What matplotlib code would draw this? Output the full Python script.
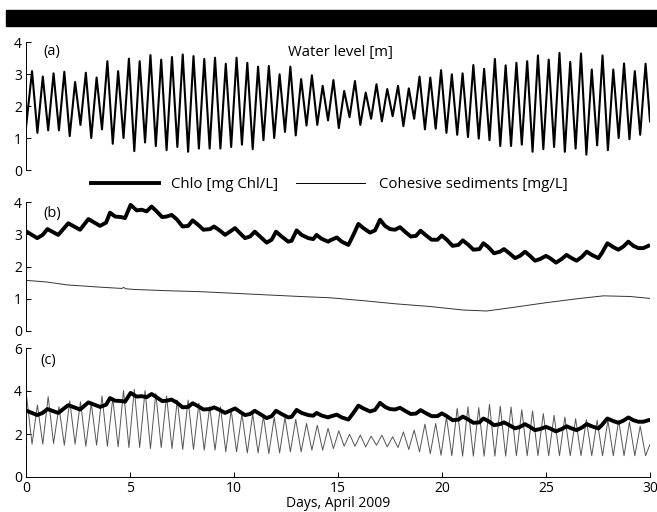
import matplotlib
matplotlib.use("Agg")
import matplotlib.pyplot as plt
from matplotlib.lines import Line2D
from matplotlib.patches import Rectangle
import numpy as np

plt.rcParams['font.family'] = ['Open Sans', 'DejaVu Sans']
plt.rcParams['font.size'] = 10

# tide timing (days): first high water and tidal period
first_hw = 0.29
tide_period = 0.5175
n_hw = 58

# water level [m]: start, high waters, low waters (between highs), end
wl_start = 1.33
wl_end = 1.52
wl_high = [3.09, 2.92, 3.02, 3.07, 2.75, 3.04, 2.89, 3.40, 3.09, 3.48,
           3.40, 3.59, 3.45, 3.53, 3.61, 3.56, 3.47, 3.51, 3.32,
           3.51, 3.35, 3.23, 3.25, 2.99, 3.23, 2.84, 2.96, 2.63, 2.81,
           2.47, 2.78, 2.42, 2.68, 2.53, 2.63, 2.55, 2.92, 2.89, 3.12,
           2.99, 3.02, 3.28, 3.16, 3.47, 3.27, 3.35, 3.40, 3.58, 3.45,
           3.66, 3.38, 3.64, 3.14, 3.58, 3.14, 3.33, 3.09, 3.32]
wl_low = [1.16, 1.24, 1.24, 1.06, 1.41, 1.00, 1.27, 0.82, 1.00, 0.59,
          0.86, 0.75, 0.62, 0.72, 0.57, 0.67, 0.67, 0.67, 0.72,
          0.79, 0.65, 0.93, 1.00, 1.19, 1.08, 1.39, 1.41, 1.55, 1.31,
          1.65, 1.41, 1.60, 1.52, 1.68, 1.37, 1.60, 1.27, 1.29,
          1.16, 1.10, 1.03, 0.98, 0.93, 0.75, 0.75, 0.79, 0.57, 0.65,
          0.72, 0.57, 0.67, 0.48, 0.77, 0.62, 1.00, 0.96, 1.10]

# panel (c) thin series: start, minima at high water, maxima at low water, end
c_start = 4.0
c_end = 1.52
c_min = [1.53, 1.53, 1.56, 1.48, 1.53, 1.43, 1.48, 1.43, 1.40, 1.37,
         1.37, 1.32, 1.37, 1.32, 1.28, 1.28, 1.25, 1.25, 1.17,
         1.17, 1.12, 1.12, 1.09, 1.12, 1.17, 1.17, 1.25, 1.25, 1.32,
         1.43, 1.43, 1.40, 1.48, 1.40, 1.37, 1.28, 1.17, 1.09, 1.01,
         0.99, 0.97, 0.97, 0.97, 0.97, 0.97, 0.99, 0.99, 0.99, 0.99,
         0.99, 0.99, 0.99, 0.99, 0.99, 0.99, 0.99, 0.99, 0.99]
c_max = [3.35, 3.74, 3.27, 3.54, 3.50, 3.43, 3.77, 3.66, 4.02, 4.08,
         4.02, 3.89, 3.77, 3.58, 3.58, 3.43, 3.27, 3.27,
         3.12, 2.93, 2.93, 2.83, 2.77, 2.77, 2.68, 2.49, 2.41, 2.26,
         2.15, 1.99, 1.95, 1.90, 1.95, 1.87, 2.10, 2.18, 2.46, 2.49,
         2.80, 3.20, 3.26, 3.23, 3.38, 3.30, 3.26, 3.13, 3.07, 2.95,
         2.87, 2.79, 2.71, 2.67, 2.64, 2.64, 2.64, 2.56, 2.36]

# Chlo [mg Chl/L]
chl_day = [0.03, 0.54, 0.8, 1.03, 1.55, 2.03, 2.6, 3.0, 3.56, 3.85,
           4.04, 4.28, 4.6, 4.76, 5.03, 5.32, 5.56, 5.8, 6.04, 6.28,
           6.55, 6.76, 7.0, 7.24, 7.53, 7.8, 8.01, 8.28, 8.53, 8.85,
           9.04, 9.33, 9.57, 9.8, 10.05, 10.29, 10.53, 10.77, 11.0, 11.25,
           11.57, 11.81, 12.02, 12.29, 12.61, 12.77, 13.01, 13.25, 13.57, 13.81,
           13.97, 14.21, 14.53, 14.62, 14.94, 15.18, 15.5, 15.74, 15.98, 16.22,
           16.54, 16.78, 17.02, 17.26, 17.5, 17.74, 17.98, 18.22, 18.5, 18.75,
           18.97, 19.26, 19.5, 19.78, 19.99, 20.23, 20.51, 20.79, 21.0, 21.27,
           21.51, 21.8, 21.99, 22.23, 22.5, 22.79, 22.98, 23.24, 23.51, 23.75,
           23.99, 24.23, 24.47, 24.71, 25.0, 25.19, 25.48, 25.75, 25.99, 26.23,
           26.47, 26.71, 26.96, 27.2, 27.52, 27.68, 27.95, 28.24, 28.48, 28.72,
           28.96, 29.2, 29.44, 29.68, 29.92]
chl_val = [3.08, 2.88, 2.98, 3.16, 2.98, 3.34, 3.14, 3.47, 3.26, 3.36,
           3.67, 3.55, 3.53, 3.50, 3.91, 3.74, 3.76, 3.71, 3.86, 3.71,
           3.53, 3.55, 3.60, 3.47, 3.24, 3.26, 3.43, 3.29, 3.14, 3.16,
           3.24, 3.11, 2.98, 3.08, 3.19, 3.03, 2.88, 2.93, 3.08, 2.93,
           2.74, 2.83, 3.08, 2.93, 2.77, 2.80, 3.12, 2.98, 2.88, 2.85,
           2.98, 2.86, 2.77, 2.81, 2.90, 2.77, 2.67, 2.98, 3.32, 3.19,
           3.05, 3.12, 3.45, 3.26, 3.16, 3.14, 3.22, 3.08, 2.93, 2.95,
           3.11, 2.95, 2.83, 2.83, 2.96, 2.83, 2.64, 2.67, 2.81, 2.67,
           2.52, 2.54, 2.72, 2.60, 2.41, 2.46, 2.54, 2.41, 2.26, 2.33,
           2.46, 2.33, 2.18, 2.23, 2.33, 2.26, 2.12, 2.23, 2.36, 2.26,
           2.18, 2.29, 2.46, 2.36, 2.26, 2.41, 2.72, 2.60, 2.52, 2.62,
           2.77, 2.64, 2.57, 2.57, 2.64]

# cohesive sediments [mg/L]
sed_day = [0.0, 1.0, 1.96, 3.56, 4.6, 4.7, 4.8, 5.16, 6.76, 8.37,
           9.97, 11.57, 13.17, 14.62, 16.22, 17.82, 19.42, 21.03, 22.15, 23.4,
           25.03, 26.63, 27.76, 29.04, 30.0]
sed_val = [1.57, 1.52, 1.43, 1.36, 1.32, 1.35, 1.31, 1.29, 1.25, 1.22,
           1.17, 1.12, 1.07, 1.03, 0.94, 0.84, 0.76, 0.65, 0.62, 0.73,
           0.88, 1.01, 1.09, 1.07, 1.01]

days_ticks = [0, 5, 10, 15, 20, 25, 30]


def tidal_series(start, highs, lows, end):
    t_hi = first_hw + tide_period * np.arange(n_hw)
    t_lo = t_hi[:-1] + tide_period / 2
    t = [0.0]
    v = [start]
    for i in range(n_hw):
        t.append(t_hi[i]); v.append(highs[i])
        if i < n_hw - 1:
            t.append(t_lo[i]); v.append(lows[i])
    t.append(30.0); v.append(end)
    return np.array(t), np.array(v)


def style_axis(ax, ylim, yticks, bottom=False):
    ax.set_xlim(0, 30)
    ax.set_ylim(*ylim)
    ax.set_yticks(yticks)
    for s in ['top', 'right']:
        ax.spines[s].set_visible(False)
    ax.spines['left'].set_linewidth(0.7)
    ax.spines['bottom'].set_linewidth(0.7)
    ax.tick_params(direction='in', length=3.5, width=0.7, labelsize=10, pad=3)
    if not bottom:
        ax.spines['bottom'].set_visible(False)
        ax.set_xticks([])
    else:
        ax.set_xticks(days_ticks)
    ax.patch.set_visible(False)


fig = plt.figure(figsize=(6.57, 5.12), dpi=100)
W, H = 657.0, 512.0

# black bar on top
fig.patches.append(Rectangle((6 / W, 1 - 26 / H), 1, 16 / H, transform=fig.transFigure,
                             color='black', zorder=0))

x0, x1 = 26 / W, 650 / W
ax_a = fig.add_axes([x0, 1 - 170 / H, x1 - x0, 128 / H])
ax_b = fig.add_axes([x0, 1 - 331 / H, x1 - x0, 129 / H])
ax_c = fig.add_axes([x0, 1 - 477 / H, x1 - x0, 129 / H])

# (a) water level
t_wl, v_wl = tidal_series(wl_start, wl_high, wl_low, wl_end)
ax_a.plot(t_wl, v_wl, color='black', lw=1.5, solid_joinstyle='round')
style_axis(ax_a, (0, 4), [0, 1, 2, 3, 4])
ax_a.text(1.25, 3.7, '(a)', fontsize=10.5, ha='center', va='center')
ax_a.text(15.1, 3.68, 'Water level [m]', fontsize=10.7, ha='center', va='center')

# (b) chlo and sediments
ax_b.plot(chl_day, chl_val, color='black', lw=2.8, solid_joinstyle='round')
ax_b.plot(sed_day, sed_val, color='#333333', lw=0.7)
style_axis(ax_b, (0, 4), [0, 1, 2, 3, 4])
ax_b.text(1.25, 3.65, '(b)', fontsize=10.5, ha='center', va='center')

# (c)
t_c, v_c = tidal_series(c_start, c_min, c_max, c_end)
ax_c.plot(t_c, v_c, color='#555555', lw=0.7)
ax_c.plot(chl_day, chl_val, color='black', lw=2.8, solid_joinstyle='round')
style_axis(ax_c, (0, 6), [0, 2, 4, 6], bottom=True)
ax_c.text(1.05, 5.4, '(c)', fontsize=10.5, ha='center', va='center')
ax_c.set_xlabel('Days, April 2009', fontsize=10, labelpad=0)

# legend between (a) and (b)
ly = 1 - 183 / H
fig.add_artist(Line2D([91 / W, 159 / W], [ly, ly], color='black', lw=2.8,
                      transform=fig.transFigure))
fig.text(171 / W, 1 - 185 / H, 'Chlo [mg Chl/L]', fontsize=10.8, va='center')
fig.add_artist(Line2D([296 / W, 365 / W], [ly, ly], color='black', lw=0.7,
                      transform=fig.transFigure))
fig.text(379 / W, 1 - 185 / H, 'Cohesive sediments [mg/L]', fontsize=10.8, va='center')

fig.savefig('out.png', dpi=100)
